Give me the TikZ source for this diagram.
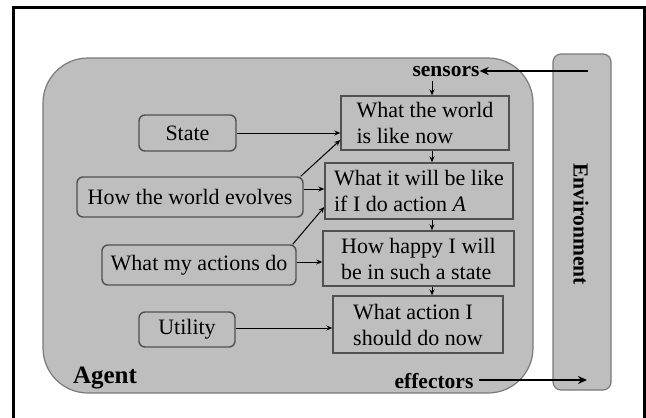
\documentclass[tikz,border=0pt]{standalone}
\usepackage{fontspec}
\setmainfont{Liberation Serif}
\usetikzlibrary{arrows.meta,calc}
\definecolor{panel}{HTML}{BEBEBE}
\definecolor{panelline}{HTML}{7A7A7A}
\definecolor{boxline}{HTML}{505050}
\tikzset{
  sq/.style={draw=boxline, line width=1.4pt, fill=panel, inner sep=0pt, align=left,
    font=\fontsize{22}{26}\selectfont},
  rbox/.style={draw=boxline, line width=1.4pt, fill=panel, rounded corners=6pt, inner sep=0pt,
    font=\fontsize{22}{26}\selectfont},
  arr/.style={line width=1pt, -{Stealth[length=6pt,width=5pt]}},
  bigarr/.style={line width=2.2pt, -{Stealth[length=9pt,width=8pt]}},
  lbl/.style={font=\fontsize{21.5}{24}\selectfont\bfseries, inner sep=0pt}
}
\begin{document}
\begin{tikzpicture}[x=1pt,y=-1pt]
\useasboundingbox (0,0) rectangle (646,418);
% outer frame
\draw[line width=3pt] (13.5,420) -- (13.5,7.5) -- (644.5,7.5) -- (644.5,420);
% agent panel
\node[draw=panelline, line width=1.2pt, fill=panel, rounded corners=45pt, minimum width=490pt, minimum height=335pt, inner sep=0pt] (agent) at (288,225.5) {};
% environment panel
\node[draw=panelline, line width=1.2pt, fill=panel, rounded corners=8pt, minimum width=58pt, minimum height=336pt, inner sep=0pt] (env) at (582,222) {};
\node[lbl, rotate=-90] (envtext) at (581,224) {Environment};
% labels
\node[lbl] (sensors) at (446,72) {sensors};
\node[lbl] (effectors) at (434,381) {effectors};
\node[lbl, font=\fontsize{25}{26}\selectfont\bfseries] (agenttext) at (105,378) {Agent};
% right column
\node[sq, minimum width=168pt, minimum height=54pt] (b1) at (425,123) {What the world\\is like now};
\node[sq, minimum width=188pt, minimum height=56pt] (b2) at (419,191) {What it will be like\\if I do action \textit{A}};
\node[sq, minimum width=191pt, minimum height=55pt] (b3) at (418.5,258.5) {How happy I will\\be in such a state};
\node[sq, minimum width=170pt, minimum height=57pt] (b4) at (418,324.5) {What action I\\should do now};
% left column
\node[rbox, minimum width=97pt, minimum height=36pt] (state) at (187.5,133) {State};
\node[rbox, minimum width=226pt, minimum height=40pt] (hwe) at (190,197) {How the world evolves};
\node[rbox, minimum width=194pt, minimum height=40pt] (wmad) at (199,265) {What my actions do};
\node[rbox, minimum width=96pt, minimum height=35pt] (util) at (187,329.5) {Utility};
% helper coordinates
\coordinate (vx) at (432,0);
\coordinate (y140) at (0,140);
\coordinate (y189) at (0,189);
\coordinate (y207) at (0,207);
\coordinate (y262) at (0,262);
\coordinate (y328) at (0,328);
\coordinate (sensbot) at (432,81);
\coordinate (envin) at (588,71);
\coordinate (envout) at (587,380);
% environment arrows
\draw[bigarr] (envin) -- (sensors.east |- envin);
\draw[bigarr] ([xshift=5pt]effectors.east |- envout) -- (envout);
% vertical chain
\draw[arr] (sensbot) -- (b1.north -| vx);
\draw[arr] (b1.south -| vx) -- (b2.north -| vx);
\draw[arr] (b2.south -| vx) -- (b3.north -| vx);
\draw[arr] (b3.south -| vx) -- (b4.north -| vx);
% left inputs
\draw[arr] (state.east) -- (state.east -| b1.west);
\draw[arr] ([xshift=-3pt]hwe.north east) -- (b1.west |- y140);
\draw[arr] (hwe.east |- y189) -- (b2.west |- y189);
\draw[arr] ([xshift=-4pt]wmad.north east) -- (b2.west |- y207);
\draw[arr] (wmad.east |- y262) -- (b3.west |- y262);
\draw[arr] (util.east |- y328) -- (b4.west |- y328);
\end{tikzpicture}
\end{document}
